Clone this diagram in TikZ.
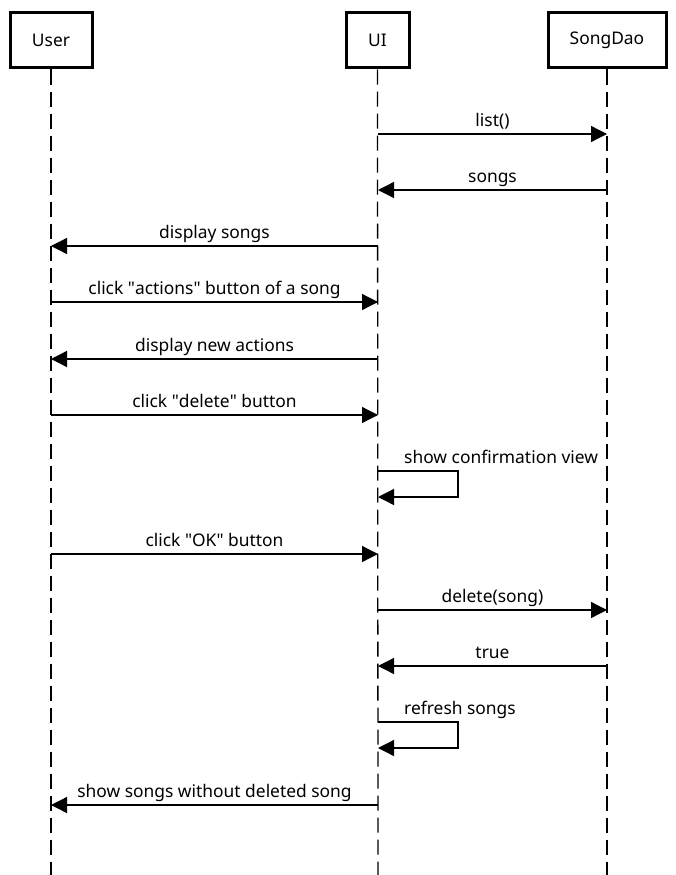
\documentclass[tikz,border=0pt]{standalone}
\usepackage{fontspec}
\setmainfont{Noto Sans}
\usetikzlibrary{arrows.meta}
\begin{document}
\begin{tikzpicture}[x=1pt,y=-1pt,
  actor/.style={draw, line width=3pt, minimum height=55pt, inner sep=0pt, font=\fontsize{17.4}{20}\selectfont},
  lifeline/.style={line width=1.3pt, dash pattern=on 15pt off 7pt},
  msg/.style={line width=1.3pt, -{Triangle[length=16pt,width=16pt]}},
  lbl/.style={anchor=base, inner sep=0pt, font=\fontsize{17.4}{20}\selectfont},
  slbl/.style={anchor=base west, inner sep=0pt, font=\fontsize{17.4}{20}\selectfont}]
\useasboundingbox (0,0) rectangle (676,875);
\node[actor, minimum width=82pt] (user) at (51,40.5) {User};
\node[actor, minimum width=63pt] (ui) at (377.5,40.5) {UI};
\node[actor, minimum width=118pt] (dao) at (607,40.5) {SongDao};
% lifeline ends
\coordinate (userEnd) at (51,875);
\coordinate (uiEnd) at (378,875);
\coordinate (daoEnd) at (607,875);
\draw[lifeline] (user.south) -- (userEnd);
\draw[lifeline] (ui.south) -- (uiEnd);
\draw[lifeline] (dao.south) -- (daoEnd);
% message endpoints
\foreach \n/\y in {1/134,2/190,3/246,4/302,5/359,6/415,8/554,9/610,10/666,12/805}{
  \coordinate (u\n) at (51,\y);
  \coordinate (i\n) at (378,\y);
  \coordinate (d\n) at (607,\y);
}
\coordinate (s7a) at (378,471);
\coordinate (s7b) at (458,471);
\coordinate (s7c) at (458,497);
\coordinate (s7d) at (378,497);
\coordinate (s11a) at (378,722);
\coordinate (s11b) at (458,722);
\coordinate (s11c) at (458,748);
\coordinate (s11d) at (378,748);
\draw[msg] (i1) -- (d1) node[lbl, pos=0.5, yshift=8pt] (l1) {list()};
\draw[msg] (d2) -- (i2) node[lbl, pos=0.5, yshift=8pt] (l2) {songs};
\draw[msg] (i3) -- (u3) node[lbl, pos=0.5, yshift=8pt] (l3) {display songs};
\draw[msg] (u4) -- (i4) node[lbl, pos=0.5, yshift=8pt] (l4) {click \textquotedbl actions\textquotedbl{} button of a song};
\draw[msg] (i5) -- (u5) node[lbl, pos=0.5, yshift=8pt] (l5) {display new actions};
\draw[msg] (u6) -- (i6) node[lbl, pos=0.5, yshift=8pt] (l6) {click \textquotedbl delete\textquotedbl{} button};
\draw[msg] (s7a) -- (s7b) -- (s7c) -- (s7d);
\node[slbl] (l7) at (404,463) {show confirmation view};
\draw[msg] (u8) -- (i8) node[lbl, pos=0.5, yshift=8pt] (l8) {click \textquotedbl OK\textquotedbl{} button};
\draw[msg] (i9) -- (d9) node[lbl, pos=0.5, yshift=8pt] (l9) {delete(song)};
\draw[msg] (d10) -- (i10) node[lbl, pos=0.5, yshift=8pt] (l10) {true};
\draw[msg] (s11a) -- (s11b) -- (s11c) -- (s11d);
\node[slbl] (l11) at (404,714) {refresh songs};
\draw[msg] (i12) -- (u12) node[lbl, pos=0.5, yshift=8pt] (l12) {show songs without deleted song};
\end{tikzpicture}
\end{document}
